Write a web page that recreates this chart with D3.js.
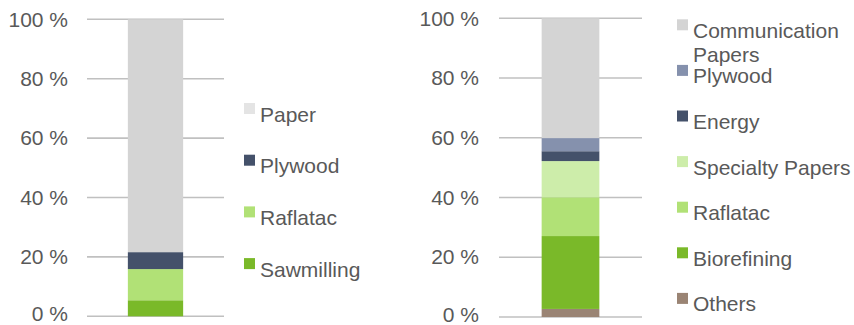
<!DOCTYPE html>
<html><head><meta charset="utf-8">
<script src="https://cdn.jsdelivr.net/npm/d3@7"></script>
<style>body{margin:0;background:#fff}svg{display:block}text{font-family:"Liberation Sans",Arial,sans-serif;fill:#595959}</style>
</head><body><svg id="c" width="854" height="325"></svg>
<script>
const yTicks = [0, 20, 40, 60, 80, 100];
// Left chart (bottom to top)
const leftSeries = ["Sawmilling", "Raflatac", "Plywood", "Paper"];
const leftValues = [5.4, 10.5, 5.7, 78.4];
const leftColors = ["#7ab929", "#b1e176", "#44516a", "#d4d4d4"];
const leftLegendColors = ["#7ab929", "#b1e176", "#44516a", "#e4e4e4"];
// Right chart (bottom to top)
const rightSeries = ["Others", "Biorefining", "Raflatac", "Specialty Papers", "Energy", "Plywood", "Communication Papers"];
const rightValues = [2.7, 24.4, 13.0, 12.1, 3.3, 4.4, 40.1];
const rightColors = ["#9a8474", "#7ab929", "#b1e176", "#cdedaa", "#44516a", "#8591ad", "#d4d4d4"];

const svg = d3.select("#c");

function chart(cfg) {
  const x = d3.scaleBand().domain(["a"]).range([cfg.x0, cfg.x1]).padding(0.425);
  const y = d3.scaleLinear().domain([0, 100]).range([cfg.yb, cfg.yt]);
  const g = svg.append("g");
  // gridlines
  g.selectAll("line.grid").data(yTicks).join("line")
    .attr("x1", cfg.x0).attr("x2", cfg.x1)
    .attr("y1", d => y(d)).attr("y2", d => y(d))
    .attr("stroke", "#c0c0c0").attr("stroke-width", 1.6);
  // axis labels
  const ax = d3.axisLeft(y).tickValues(yTicks).tickSize(0).tickPadding(0).tickFormat(d => d + " %");
  const axg = g.append("g").attr("transform", `translate(${cfg.labelX},0)`).call(ax);
  axg.select(".domain").remove();
  axg.selectAll("text").attr("font-size", 21).attr("fill", "#595959").style("font-family", '"Liberation Sans",Arial,sans-serif')
    .attr("y", d => d === 0 ? -2.5 : 0);
  // stacked segments
  let acc = 0;
  const segs = cfg.values.map((v, i) => { const s = {y0: acc, y1: acc + v, c: cfg.colors[i]}; acc += v; return s; });
  g.selectAll("rect.seg").data(segs).join("rect")
    .attr("x", x("a")).attr("width", x.bandwidth())
    .attr("y", d => y(d.y1)).attr("height", d => y(d.y0) - y(d.y1))
    .attr("fill", d => d.c);
  // legend (top to bottom)
  const items = cfg.series.map((s, i) => ({s, c: cfg.legendColors[i]})).reverse();
  const lg = g.selectAll("g.lg").data(items).join("g")
    .attr("transform", (d, i) => `translate(${cfg.lx},${cfg.ly + i * cfg.lstep})`);
  lg.append("rect").attr("x", 0).attr("y", -18.5).attr("width", 11).attr("height", 11).attr("fill", d => d.c);
  lg.append("text").attr("x", 16).attr("y", 0).attr("font-size", 21)
    .each(function(d) {
      const t = d3.select(this);
      if (cfg.wrap && d.s === "Communication Papers") {
        t.append("tspan").attr("x", 16).attr("dy", 0).text("Communication");
        t.append("tspan").attr("x", 16).attr("dy", 24).text("Papers");
      } else t.text(d.s);
    });
}

chart({x0: 87, x1: 224, yb: 316.3, yt: 19.3, labelX: 68, series: leftSeries, values: leftValues, colors: leftColors, legendColors: leftLegendColors, lx: 244, ly: 121.5, lstep: 51.7, wrap: false});
chart({x0: 499, x1: 642, yb: 317, yt: 18.3, labelX: 479, series: rightSeries, values: rightValues, colors: rightColors, legendColors: rightColors, lx: 677, ly: 37.8, lstep: 45.6, wrap: true});
</script></body></html>
